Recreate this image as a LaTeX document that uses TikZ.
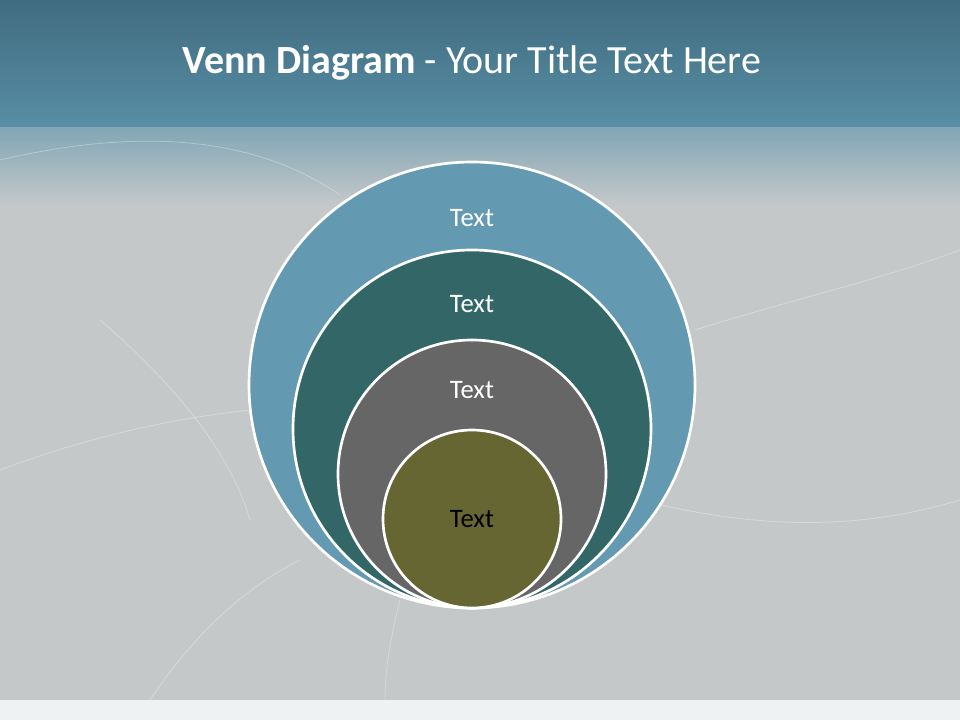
\documentclass[tikz,border=0pt]{standalone}
\usepackage{fontspec}
\setmainfont{Carlito}
\usepackage{tikz}
\usetikzlibrary{calc,positioning}
\definecolor{headdark}{RGB}{64,108,128}
\definecolor{headlight}{RGB}{88,142,166}
\definecolor{fadetop}{RGB}{130,166,182}
\definecolor{slategrey}{RGB}{196,200,201}
\definecolor{footpale}{RGB}{238,242,243}
\definecolor{setblue}{RGB}{99,153,177}
\definecolor{setteal}{RGB}{51,103,103}
\definecolor{setgrey}{RGB}{102,102,102}
\definecolor{setolive}{RGB}{102,102,51}

\begin{document}
\begin{tikzpicture}[x=0.75pt,y=-0.75pt,
  ring/.style={circle,draw=white,line width=2pt,inner sep=0pt},
  ringtext/.style={font=\fontsize{20}{22}\selectfont,text=white},
  scratch/.style={draw=white,opacity=0.3,line width=0.6pt}]
  \useasboundingbox (0,0) rectangle (960,720);
  % backdrop
  \fill[slategrey] (0,0) rectangle (960,720);
  \shade[top color=headdark,bottom color=headlight] (0,0) rectangle (960,128);
  \shade[top color=fadetop,bottom color=slategrey] (0,128) rectangle (960,205);
  \fill[footpale] (0,700) rectangle (960,720);
  \draw[scratch] (0,160) .. controls (150,125) and (260,140) .. (340,195);
  \draw[scratch] (100,320) .. controls (170,380) and (230,450) .. (250,520);
  \draw[scratch] (0,470) .. controls (80,440) and (160,420) .. (250,410);
  \draw[scratch] (695,330) .. controls (790,300) and (880,280) .. (960,250);
  \draw[scratch] (640,500) .. controls (760,530) and (860,530) .. (960,500);
  \draw[scratch] (150,700) .. controls (190,640) and (240,590) .. (300,560);
  \draw[scratch] (400,600) .. controls (390,640) and (385,670) .. (385,700);
  % title
  \node[text=white,font=\fontsize{30}{34}\selectfont] (title) at (472,63)
    {\textbf{Venn Diagram} - Your Title Text Here};
  % nested sets
  \node[ring,fill=setblue,minimum size=334.5pt] (setA) at (472,385) {};
  \node[ring,fill=setteal,minimum size=268.5pt] (setB) at (472,429) {};
  \node[ring,fill=setgrey,minimum size=201pt] (setC) at (472,474) {};
  \node[ring,fill=setolive,minimum size=133.5pt] (setD) at (472,519) {};
  \node[ringtext] (textA) at ($(setA.north)+(0,57)$) {Text};
  \node[ringtext] (textB) at ($(setB.north)+(0,55)$) {Text};
  \node[ringtext] (textC) at ($(setC.north)+(0,51)$) {Text};
  \node[ringtext,text=black] (textD) at (setD.center) {Text};
\end{tikzpicture}
\end{document}
